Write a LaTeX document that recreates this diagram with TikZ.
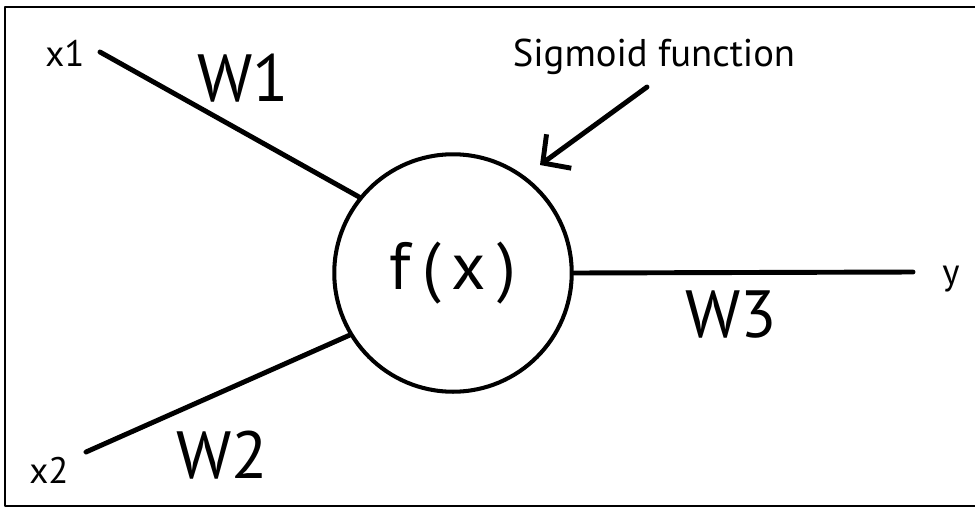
\documentclass[tikz,border=0pt]{standalone}
\usepackage{fontspec}
\setmainfont{PT Sans}
\usetikzlibrary{arrows.meta}

\begin{document}
\begin{tikzpicture}[x=0.02cm, y=-0.02cm, line cap=round, line join=round,
	small/.style={inner sep=0pt, font=\fontsize{21}{24}\selectfont},
	weight/.style={inner sep=0pt, font=\fontsize{38}{42}\selectfont},
	wire/.style={line width=2.8pt}]
	
	\useasboundingbox (0,0) rectangle (975,508);
	
	% frame (open on the right)
	\draw[line width=1.4pt] (975,7) -- (5,7) -- (5,506) -- (975,506);
	
	% neuron
	\node[draw, circle, line width=2.3pt, minimum size=4.75cm, inner sep=0pt,
	font=\fontsize{38}{42}\selectfont] (fx) at (453,273) {f\,(\,x\,)};
	
	% inputs and output
	\coordinate (in1) at (100,52);
	\coordinate (in2) at (86,452);
	\coordinate (out) at (913,272);
	\node[small] (x1) at (65,53) {x1};
	\node[small] (x2) at (49,470) {x2};
	\node[small] (y) at (951,279) {y};
	
	\draw[wire] (in1) -- (fx.141);
	\draw[wire] (in2) -- (fx.211);
	\draw[wire] (fx.east) -- (out);
	
	% weights
	\node[weight] (w1) at (243,78) {W1};
	\node[weight] (w2) at (222,455) {W2};
	\node[weight] (w3) at (731,315) {W3};
	
	% annotation
	\node[inner sep=0pt, font=\fontsize{22}{26}\selectfont] (sig) at (654,57) {Sigmoid function};
	\coordinate (sigtip) at (540,165);
	\draw[wire, -{Straight Barb[length=4mm, width=8.4mm]}] (647,87) -- (sigtip);
	
\end{tikzpicture}
\end{document}
